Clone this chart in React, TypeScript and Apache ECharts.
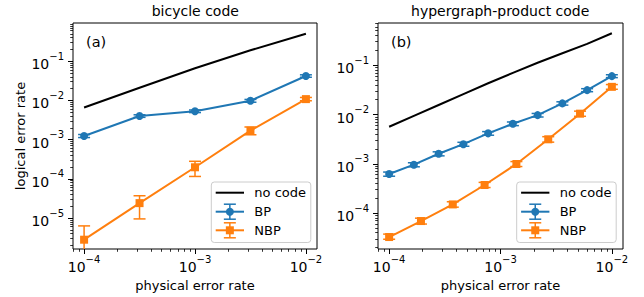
import React, { useEffect, useRef } from "react";
import * as echarts from "echarts";

// ---------- data ----------
const leftP = [1e-4, 3.162e-4, 1e-3, 3.162e-3, 1e-2];
const leftNoCode = [0.0066, 0.021, 0.066, 0.19, 0.5];
const leftBP = [1.24e-3, 4.0e-3, 5.3e-3, 9.8e-3, 0.042];
const leftBPLow = [1.13e-3, 3.7e-3, 4.9e-3, 9.0e-3, 0.039];
const leftBPHigh = [1.35e-3, 4.3e-3, 5.7e-3, 0.0106, 0.045];
const leftNBP = [2.8e-6, 2.4e-5, 1.97e-4, 1.69e-3, 0.0108];
const leftNBPLow = [1e-7, 9.5e-6, 1.15e-4, 1.33e-3, 0.0098];
const leftNBPHigh = [6.3e-6, 3.7e-5, 2.8e-4, 2.1e-3, 0.0119];

const rightBPP = [1e-4, 1.668e-4, 2.783e-4, 4.642e-4, 7.743e-4, 1.292e-3, 2.154e-3, 3.594e-3, 5.995e-3, 1e-2];
const rightNoCode = [5.65e-3, 9.4e-3, 0.0156, 0.026, 0.043, 0.07, 0.112, 0.175, 0.27, 0.445];
const rightBP = [6.2e-4, 9.6e-4, 1.6e-3, 2.5e-3, 4.15e-3, 6.5e-3, 9.7e-3, 0.0168, 0.0312, 0.06];
const rightBPLow = [5.6e-4, 8.7e-4, 1.45e-3, 2.27e-3, 3.8e-3, 5.95e-3, 8.9e-3, 0.0155, 0.029, 0.056];
const rightBPHigh = [6.8e-4, 1.05e-3, 1.75e-3, 2.73e-3, 4.5e-3, 7.05e-3, 0.0105, 0.0181, 0.0334, 0.064];
const rightNBPP = [1e-4, 1.931e-4, 3.728e-4, 7.197e-4, 1.389e-3, 2.683e-3, 5.179e-3, 1e-2];
const rightNBP = [3.27e-5, 6.9e-5, 1.5e-4, 3.72e-4, 9.9e-4, 3.14e-3, 0.0104, 0.0364];
const rightNBPLow = [2.95e-5, 6.0e-5, 1.32e-4, 3.3e-4, 8.8e-4, 2.75e-3, 9.2e-3, 0.0325];
const rightNBPHigh = [3.75e-5, 7.9e-5, 1.7e-4, 4.2e-4, 1.11e-3, 3.55e-3, 0.0117, 0.0405];

const xTickExps = [-4, -3, -2];
const leftYTickExps = [-5, -4, -3, -2, -1];
const rightYTickExps = [-4, -3, -2, -1];
const titles = ["bicycle code", "hypergraph-product code"];
const panelLabels = ["(a)", "(b)"];
const legendNames = ["no code", "BP", "NBP"];

// ---------- style ----------
const FONT = "DejaVu Sans";
const BLUE = "#1f77b4";
const ORANGE = "#ff7f0e";
const X_EXT = [-4.1, -1.9];
const LEFT_Y_EXT = [-5.79, -0.025];
const RIGHT_Y_EXT = [-4.728, -0.144];
const GRIDS = [
  { left: 73, top: 23, width: 244, height: 226 },
  { left: 378, top: 23, width: 245, height: 226 },
];

const lg = Math.log10;
const minorTicks = (ext: number[]) => {
  const out: number[] = [];
  for (let d = -7; d <= 1; d++) {
    for (let k = 2; k <= 9; k++) {
      const v = d + lg(k);
      if (v >= ext[0] && v <= ext[1]) out.push(v);
    }
  }
  return out;
};

const powLabel = (v: number) => `{b|10}{s|−${Math.round(-v)}}`;
const rich = {
  b: { fontSize: 14, fontFamily: FONT, color: "#000", lineHeight: 20, verticalAlign: "bottom" },
  s: { fontSize: 10, fontFamily: FONT, color: "#000", lineHeight: 12, verticalAlign: "top" },
};

function majorAxis(gridIndex: number, ext: number[], ticks: number[], isX: boolean, name?: string) {
  return {
    type: "value",
    gridIndex,
    position: isX ? "bottom" : "left",
    min: ext[0],
    max: ext[1],
    axisLine: { show: false },
    splitLine: { show: false },
    axisTick: { show: true, length: 5, customValues: ticks, lineStyle: { color: "#000", width: 1 } },
    axisLabel: {
      show: true,
      customValues: ticks,
      formatter: powLabel,
      rich,
      margin: isX ? 5 : 9,
    },
    name: name || "",
    nameLocation: "middle",
    nameGap: isX ? 26 : 46,
    nameTextStyle: { fontSize: 13, fontFamily: FONT, color: "#000" },
  };
}
function minorAxis(gridIndex: number, ext: number[], isX: boolean) {
  return {
    type: "value",
    gridIndex,
    position: isX ? "bottom" : "left",
    min: ext[0],
    max: ext[1],
    axisLine: { show: false },
    splitLine: { show: false },
    axisLabel: { show: false },
    axisTick: { show: true, length: 2.8, customValues: minorTicks(ext), lineStyle: { color: "#000", width: 0.8 } },
  };
}

const toPts = (xs: number[], ys: number[]) => xs.map((x, i) => [lg(x), lg(ys[i])]);
const toErr = (xs: number[], lo: number[], hi: number[]) => xs.map((x, i) => [lg(x), lg(lo[i]), lg(hi[i])]);

function errSeries(ax: number, data: number[][], color: string, yExt: number[]) {
  return {
    type: "custom",
    xAxisIndex: ax,
    yAxisIndex: ax,
    z: 2,
    encode: { x: 0, y: [1, 2] },
    data,
    renderItem: (params: any, api: any) => {
      const x = api.value(0);
      const lo = api.value(1);
      const hi = api.value(2);
      const pLo = api.coord([x, Math.max(lo, yExt[0])]);
      const pHi = api.coord([x, Math.min(hi, yExt[1])]);
      const w = 6;
      const st = { stroke: color, lineWidth: 1.5 };
      const children: any[] = [
        { type: "line", shape: { x1: pLo[0], y1: pLo[1], x2: pHi[0], y2: pHi[1] }, style: st },
      ];
      if (hi <= yExt[1]) children.push({ type: "line", shape: { x1: pHi[0] - w, y1: pHi[1], x2: pHi[0] + w, y2: pHi[1] }, style: st });
      if (lo >= yExt[0]) children.push({ type: "line", shape: { x1: pLo[0] - w, y1: pLo[1], x2: pLo[0] + w, y2: pLo[1] }, style: st });
      return { type: "group", children };
    },
  };
}

function lineSeries(ax: number, data: number[][], color: string, symbol: string, size: number) {
  return {
    type: "line",
    xAxisIndex: ax,
    yAxisIndex: ax,
    z: 3,
    data,
    symbol,
    symbolSize: size,
    showSymbol: symbol !== "none",
    itemStyle: { color },
    lineStyle: { color, width: 2 },
    silent: true,
  };
}

function legendGraphic(spineRight: number) {
  const bx = spineRight - 106;
  const by = 182;
  const hx1 = spineRight - 101.6;
  const hx2 = hx1 + 28.3;
  const hc = (hx1 + hx2) / 2;
  const tx = spineRight - 63;
  const rows = [192.7, 211.7, 230.3];
  const els: any[] = [
    { type: "rect", shape: { x: bx, y: by, width: 99.5, height: 60.5, r: 3 }, style: { fill: "rgba(255,255,255,0.8)", stroke: "#cccccc", lineWidth: 1 }, z: 10 },
    { type: "line", shape: { x1: hx1, y1: rows[0], x2: hx2, y2: rows[0] }, style: { stroke: "#000", lineWidth: 2 }, z: 11 },
  ];
  const colors = [BLUE, ORANGE];
  [1, 2].forEach((r, i) => {
    const c = colors[i];
    const y = rows[r];
    els.push({ type: "line", shape: { x1: hx1, y1: y, x2: hx2, y2: y }, style: { stroke: c, lineWidth: 2 }, z: 11 });
    els.push({ type: "line", shape: { x1: hc, y1: y - 7.5, x2: hc, y2: y + 7.5 }, style: { stroke: c, lineWidth: 1.5 }, z: 11 });
    els.push({ type: "line", shape: { x1: hc - 6, y1: y - 7.5, x2: hc + 6, y2: y - 7.5 }, style: { stroke: c, lineWidth: 1.5 }, z: 11 });
    els.push({ type: "line", shape: { x1: hc - 6, y1: y + 7.5, x2: hc + 6, y2: y + 7.5 }, style: { stroke: c, lineWidth: 1.5 }, z: 11 });
    if (r === 1) els.push({ type: "circle", shape: { cx: hc, cy: y, r: 4 }, style: { fill: c }, z: 12 });
    else els.push({ type: "rect", shape: { x: hc - 4, y: y - 4, width: 8, height: 8 }, style: { fill: c }, z: 12 });
  });
  rows.forEach((y, i) => {
    els.push({ type: "text", x: tx, y, style: { text: legendNames[i], fontSize: 13, fontFamily: FONT, fill: "#000", verticalAlign: "middle", align: "left" }, z: 12 });
  });
  return els;
}

export default function App() {
  const ref = useRef<HTMLDivElement>(null);
  useEffect(() => {
    if (!ref.current) return;
    const chart = echarts.init(ref.current, undefined, { renderer: "svg" });
    const option: any = {
      animation: false,
      backgroundColor: "#fff",
      textStyle: { fontFamily: FONT },
      grid: GRIDS.map((g) => ({ ...g, show: true, borderColor: "#000", borderWidth: 1, backgroundColor: "transparent", containLabel: false, outerBoundsMode: "none" })),
      xAxis: [
        majorAxis(0, X_EXT, xTickExps, true, "physical error rate"),
        minorAxis(0, X_EXT, true),
        majorAxis(1, X_EXT, xTickExps, true, "physical error rate"),
        minorAxis(1, X_EXT, true),
      ],
      yAxis: [
        majorAxis(0, LEFT_Y_EXT, leftYTickExps, false, "logical error rate"),
        minorAxis(0, LEFT_Y_EXT, false),
        majorAxis(1, RIGHT_Y_EXT, rightYTickExps, false),
        minorAxis(1, RIGHT_Y_EXT, false),
      ],
      series: [
        lineSeries(0, toPts(leftP, leftNoCode), "#000", "none", 0),
        errSeries(0, toErr(leftP, leftBPLow, leftBPHigh), BLUE, LEFT_Y_EXT),
        lineSeries(0, toPts(leftP, leftBP), BLUE, "circle", 8),
        errSeries(0, toErr(leftP, leftNBPLow, leftNBPHigh), ORANGE, LEFT_Y_EXT),
        lineSeries(0, toPts(leftP, leftNBP), ORANGE, "rect", 8),
        lineSeries(2, toPts(rightBPP, rightNoCode), "#000", "none", 0),
        errSeries(2, toErr(rightBPP, rightBPLow, rightBPHigh), BLUE, RIGHT_Y_EXT),
        lineSeries(2, toPts(rightBPP, rightBP), BLUE, "circle", 8),
        errSeries(2, toErr(rightNBPP, rightNBPLow, rightNBPHigh), ORANGE, RIGHT_Y_EXT),
        lineSeries(2, toPts(rightNBPP, rightNBP), ORANGE, "rect", 8),
      ],
      graphic: [
        { type: "text", x: 195.3, y: 11, style: { text: titles[0], fontSize: 14, fontFamily: FONT, fill: "#000", align: "center", verticalAlign: "middle" } },
        { type: "text", x: 500.2, y: 11, style: { text: titles[1], fontSize: 14, fontFamily: FONT, fill: "#000", align: "center", verticalAlign: "middle" } },
        { type: "text", x: 86, y: 41.7, style: { text: panelLabels[0], fontSize: 14.5, fontFamily: FONT, fill: "#000", align: "left", verticalAlign: "middle" } },
        { type: "text", x: 391, y: 41.7, style: { text: panelLabels[1], fontSize: 14.5, fontFamily: FONT, fill: "#000", align: "left", verticalAlign: "middle" } },
        ...legendGraphic(317.3),
        ...legendGraphic(622.7),
      ],
    };
    chart.setOption(option);
    return () => chart.dispose();
  }, []);
  return <div ref={ref} style={{ position: "fixed", left: 0, top: 0, width: 644, height: 297 }} />;
}
